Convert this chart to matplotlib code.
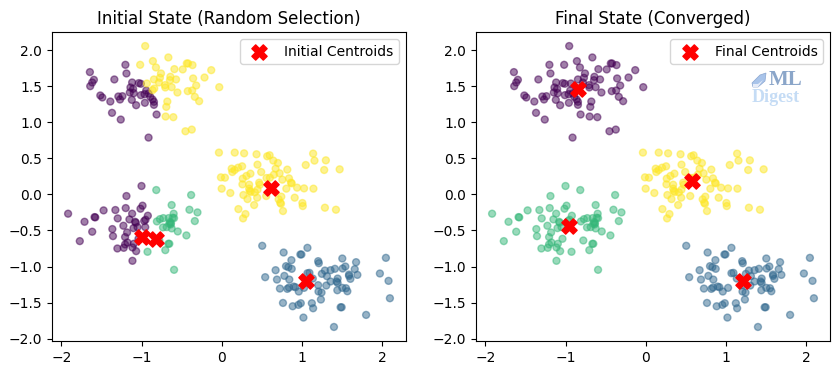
import numpy as np
import matplotlib.pyplot as plt
from matplotlib.patches import Polygon

# points, grouped by how they get coloured in the two panels
top_a=[(-1.644,1.695),(-1.594,1.588),(-1.615,1.551),(-1.640,1.500),(-1.339,1.593),(-1.201,1.796),(-1.188,1.676),
(-1.117,1.551),(-1.034,1.542),(-1.008,1.533),(-1.138,1.482),(-1.105,1.463),(-1.146,1.412),(-1.096,1.403),
(-.941,1.440),(-1.008,1.375),(-.962,1.389),(-.912,1.398),(-.891,1.352),(-.862,1.315),(-.845,1.283),(-.845,1.241),
(-.958,1.269),(-1.067,1.236),(-1.121,1.310),(-1.514,1.371),(-1.489,1.343),(-1.389,1.287),(-1.289,1.357),
(-1.238,1.361),(-1.268,1.315),(-1.368,1.130),(-1.259,1.037),(-.812,1.107),(-.912,.787)]
top_b=[(-.954,2.056),(-1.017,1.796),(-.858,1.847),(-.820,1.759),(-.665,1.898),(-.590,1.736),(-.757,1.676),
(-.770,1.616),(-.845,1.593),(-.640,1.630),(-.645,1.583),(-.569,1.593),(-.933,1.537),(-.783,1.551),(-.707,1.514),
(-.703,1.482),(-.624,1.486),(-.841,1.468),(-.862,1.445),(-.552,1.412),(-.435,1.815),(-.419,1.815),(-.364,1.792),
(-.486,1.732),(-.356,1.607),(-.318,1.509),(-.214,1.620),(-.130,1.722),(-.030,1.486),(-.423,1.431),(-.368,1.440),
(-.335,1.352),(-.281,1.292),(-.678,1.287),(-.691,1.213),(-.699,1.079),(-.603,1.070),(-.452,.875),(-.373,.898)]
mid=[(-.034,.579),(.163,.579),(.280,.569),(.435,.556),(.568,.528),(.598,.542),(.644,.468),(.702,.435),(1.141,.565),
(1.300,.472),(1.158,.468),(1.049,.407),(1.279,.338),(1.472,.347),(.819,.343),(.673,.356),(.447,.412),(.493,.310),
(.255,.389),(.205,.370),(.125,.356),(.163,.338),(.133,.310),(.359,.287),(.309,.255),(.263,.218),(-.009,.236),
(.041,.231),(.259,.139),(.343,.134),(.468,.162),(.476,.134),(.560,.227),(.602,.231),(.652,.273),(.723,.292),
(.757,.204),(.840,.222),(.865,.162),(.874,.153),(.807,.079),(.941,.093),(1.028,.083),(1.145,.079),(0,.079),
(.108,.019),(.343,.079),(.447,.065),(.351,.046),(.363,.032),(.414,.028),(.271,-.009),(.322,-.065),(.443,-.046),
(.556,-.023),(.744,-.032),(.711,-.069),(.731,-.116),(.740,-.130),(.911,-.046),(1.007,-.120),(1.012,-.162),
(.405,-.148),(.209,-.204),(.297,-.273),(.267,-.333),(.765,-.231),(1.288,-.185),(1.426,-.213)]
low_a=[(-1.0,.116),(-1.188,-.023),(-.987,-.157),(-1.013,-.199),(-1.197,-.190),(-1.326,-.217),(-1.473,-.222),
(-1.916,-.268),(-1.711,-.380),(-1.586,-.315),(-1.577,-.319),(-1.297,-.333),(-1.117,-.268),(-.921,-.296),
(-1.151,-.347),(-1.080,-.380),(-1.071,-.393),(-.967,-.370),(-.950,-.352),(-1.226,-.435),(-1.050,-.454),
(-.954,-.454),(-1.100,-.468),(-1.364,-.481),(-1.615,-.518),(-1.180,-.528),(-1.356,-.579),(-1.205,-.592),
(-1.770,-.648),(-1.176,-.667),(-1.205,-.694),(-1.096,-.685),(-1.301,-.750),(-1.222,-.741),(-1.113,-.736),
(-1.067,-.787),(-1.113,-.921),(-1.038,-.616)]
low_b=[(-.816,.060),(-.381,-.009),(-.624,-.148),(-.599,-.268),(-.402,-.213),(-.302,-.250),(-.335,-.370),
(-.808,-.375),(-.770,-.343),(-.728,-.329),(-.661,-.329),(-.611,-.324),(-.594,-.329),(-.645,-.384),(-.636,-.417),
(-.732,-.458),(-.686,-.454),(-.624,-.472),(-.548,-.514),(-.440,-.569),(-.778,-.639),(-.665,-.685),(-.653,-.685),
(-.925,-.796),(-.703,-.773),(-.594,-1.046),(-.653,-.407),(-.632,-.398)]
bot=[(.506,-.713),(1.070,-.741),(.773,-.806),(.982,-.833),(.995,-.833),(.870,-.912),(1.204,-.926),(1.212,-.954),
(1.505,-.889),(1.677,-.940),(2.049,-.880),(.803,-.995),(.832,-1.009),(.874,-1.032),(.673,-1.051),(1.543,-1.0),
(1.509,-1.028),(1.413,-1.032),(1.359,-1.051),(1.288,-1.056),(1.660,-1.037),(.782,-1.130),(.543,-1.148),(.690,-1.181),
(.844,-1.181),(1.250,-1.102),(1.313,-1.134),(1.070,-1.093),(1.095,-1.088),(1.137,-1.167),(1.589,-1.111),(1.589,-1.130),
(1.693,-1.116),(1.606,-1.171),(1.447,-1.167),(1.434,-1.208),(1.447,-1.227),(1.359,-1.208),(1.305,-1.264),(1.204,-1.259),
(1.974,-1.097),(2.082,-1.199),(.727,-1.306),(.819,-1.310),(.840,-1.292),(.899,-1.278),(.920,-1.287),(.962,-1.347),
(1.028,-1.296),(1.443,-1.329),(1.505,-1.296),(1.551,-1.301),(1.568,-1.343),(1.208,-1.347),(1.246,-1.361),(1.238,-1.458),
(2.099,-1.440),(.765,-1.505),(.886,-1.551),(.957,-1.532),(.987,-1.509),(1.125,-1.509),(1.141,-1.579),(1.484,-1.565),
(1.497,-1.565),(1.020,-1.708),(1.802,-1.671),(1.401,-1.838)]

groups=[top_a,top_b,mid,low_a,low_b,bot]
labels_init=[0,3,3,0,2,1]
labels_final=[0,0,3,2,2,1]

init_centroids=[(-1.0,-.59),(-.82,-.62),(.62,.09),(1.05,-1.2)]
final_centroids=[(-.84,1.46),(-.96,-.44),(.58,.18),(1.21,-1.2)]

titles=["Initial State (Random Selection)","Final State (Converged)"]
legend_names=["Initial Centroids","Final Centroids"]

points=np.array([p for g in groups for p in g])

fig=plt.figure(figsize=(8.38,3.74),dpi=100)
ax1=fig.add_axes([52/838,33/374,354/838,309/374])
ax2=fig.add_axes([476/838,33/374,354/838,309/374])

for ax,labels,cents,title,name in zip([ax1,ax2],[labels_init,labels_final],
                                      [init_centroids,final_centroids],titles,legend_names):
    c=[l for g,l in zip(groups,labels) for _ in g]
    ax.scatter(points[:,0],points[:,1],c=c,cmap='viridis',vmin=0,vmax=3,s=25,alpha=0.5)
    cents=np.array(cents)
    ax.scatter(cents[:,0],cents[:,1],c='red',marker='X',s=120,label=name)
    ax.set_title(title)
    ax.legend(loc='upper right')

# watermark
fig.text(785/838,1-80/374,"ML",family='Liberation Serif',fontweight='bold',fontsize=15,color='#7f9cc4',
         ha='center',va='center',alpha=0.9)
fig.text(776/838,1-97/374,"Digest",family='Liberation Serif',fontweight='bold',fontsize=13,color='#c5dcf5',
         ha='center',va='center')
fig.add_artist(Polygon([(752/838,1-83/374),(760/838,1-75/374),(766/838,1-73/374),(765/838,1-81/374),
                        (758/838,1-87/374),(753/838,1-87/374)],closed=True,
                       transform=fig.transFigure,fc='#a9c4ea',ec='#8aa6d0',lw=0.5))
fig.add_artist(Polygon([(753/838,1-84/374),(758/838,1-84/374),(763/838,1-80/374),(758/838,1-87/374),
                        (753/838,1-87/374)],closed=True,
                       transform=fig.transFigure,fc='#e6ecf8',ec='none'))

plt.savefig("out.png",dpi=100)
